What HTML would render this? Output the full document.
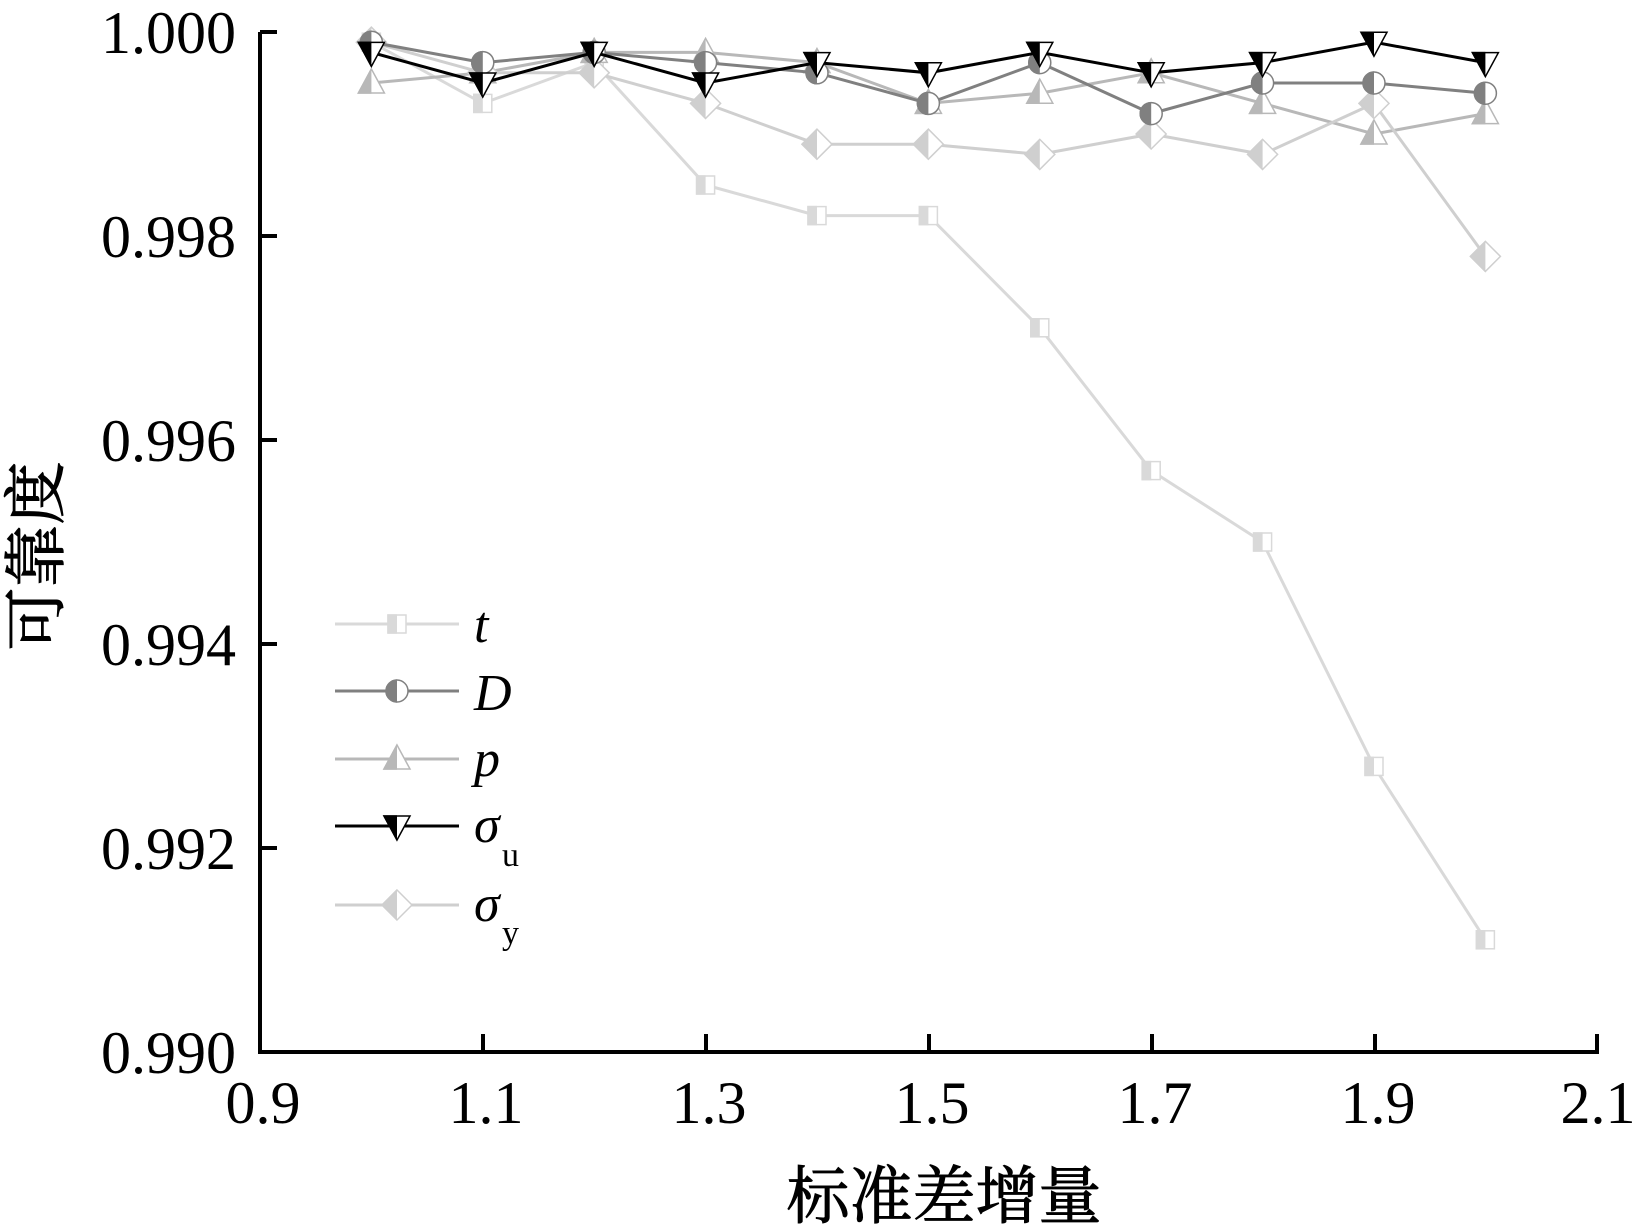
<!DOCTYPE html>
<html><head><meta charset="utf-8"><style>
html,body{margin:0;padding:0;background:#fff;}
svg{display:block;}
text{font-family:"Liberation Serif","Noto Serif CJK SC",serif;}
</style></head><body>
<svg id="s" width="1636" height="1224" viewBox="0 0 1636 1224" xmlns="http://www.w3.org/2000/svg">
<g id="plot"></g>
<g stroke="#000" stroke-width="4" fill="none">
<polyline points="260,32 260,1052 1597,1052 1597,1034"/>
<line x1="260" y1="32" x2="277" y2="32"/>
<line x1="260" y1="236" x2="277" y2="236"/>
<line x1="260" y1="440" x2="277" y2="440"/>
<line x1="260" y1="644" x2="277" y2="644"/>
<line x1="260" y1="848" x2="277" y2="848"/>
<line x1="483" y1="1052" x2="483" y2="1034"/>
<line x1="706" y1="1052" x2="706" y2="1034"/>
<line x1="929" y1="1052" x2="929" y2="1034"/>
<line x1="1152" y1="1052" x2="1152" y2="1034"/>
<line x1="1375" y1="1052" x2="1375" y2="1034"/>
</g>
<g font-size="60" text-anchor="end" fill="#000">
<text x="236" y="53">1.000</text>
<text x="236" y="257">0.998</text>
<text x="236" y="461">0.996</text>
<text x="236" y="665">0.994</text>
<text x="236" y="869">0.992</text>
<text x="236" y="1073">0.990</text>
</g>
<g font-size="60" text-anchor="middle" fill="#000">
<text x="263" y="1123">0.9</text>
<text x="486" y="1123">1.1</text>
<text x="709" y="1123">1.3</text>
<text x="932" y="1123">1.5</text>
<text x="1155" y="1123">1.7</text>
<text x="1378" y="1123">1.9</text>
<text x="1598" y="1123">2.1</text>
</g>
<text x="944" y="1218" font-size="63" text-anchor="middle" fill="#000" stroke="#000" stroke-width="1">标准差增量</text>
<text transform="translate(58,556) rotate(-90)" font-size="63" text-anchor="middle" fill="#000" stroke="#000" stroke-width="1">可靠度</text>
<g id="leg"></g>
<g font-size="52" font-style="italic" fill="#000">
<text x="474" y="642">t</text>
<text x="474" y="710">D</text>
<text x="474" y="776">p</text>
<text x="474" y="842">σ</text>
<text x="474" y="921">σ</text>
</g>
<g font-size="34" fill="#000">
<text x="502" y="866">u</text>
<text x="502" y="944">y</text>
</g>
</svg>
<script>
var X=function(v){return 260+(v-0.9)/0.2*222.8;};
var Y=function(v){return 1052-(v-0.990)*102000;};
var xs=[1.0,1.1,1.2,1.3,1.4,1.5,1.6,1.7,1.8,1.9,2.0];
var S=[
{c:"#d9d9d9",m:"sq",d:[0.9999,0.9993,0.9997,0.9985,0.9982,0.9982,0.9971,0.9957,0.9950,0.9928,0.9911],ly:624},
{c:"#b8b8b8",m:"up",d:[0.9995,0.9996,0.9998,0.9998,0.9997,0.9993,0.9994,0.9996,0.9993,0.9990,0.9992],ly:759},
{c:"#cfcfcf",m:"di",d:[0.9999,0.9996,0.9996,0.9993,0.9989,0.9989,0.9988,0.9990,0.9988,0.9993,0.9978],ly:905},
{c:"#808080",m:"ci",d:[0.9999,0.9997,0.9998,0.9997,0.9996,0.9993,0.9997,0.9992,0.9995,0.9995,0.9994],ly:691},
{c:"#000000",m:"dn",d:[0.9998,0.9995,0.9998,0.9995,0.9997,0.9996,0.9998,0.9996,0.9997,0.9999,0.9997],ly:826}
];
var n=0;
function mk(m,x,y,c){
 var o="",id="cl"+(n++);
 var half='<clipPath id="'+id+'"><rect x="'+(x-20)+'" y="'+(y-20)+'" width="20" height="40"/></clipPath>';
 var shape;
 if(m=="sq")shape='<rect x="'+(x-9)+'" y="'+(y-9)+'" width="18" height="18"/>';
 if(m=="ci")shape='<circle cx="'+x+'" cy="'+y+'" r="11"/>';
 if(m=="up")shape='<polygon points="'+x+','+(y-14)+' '+(x+13)+','+(y+10)+' '+(x-13)+','+(y+10)+'"/>';
 if(m=="dn")shape='<polygon points="'+(x-13)+','+(y-10)+' '+(x+13)+','+(y-10)+' '+x+','+(y+14)+'"/>';
 if(m=="di")shape='<polygon points="'+x+','+(y-15)+' '+(x+15)+','+y+' '+x+','+(y+15)+' '+(x-15)+','+y+'"/>';
 o+='<defs>'+half+'</defs>';
 o+='<g fill="#fff" stroke="'+c+'" stroke-width="1.5">'+shape+'</g>';
 o+='<g fill="'+c+'" stroke="'+c+'" stroke-width="1.5" clip-path="url(#'+id+')">'+shape+'</g>';
 return o;
}
var h="",l="";
S.forEach(function(s){
 var pts=xs.map(function(x,i){return X(x)+","+Y(s.d[i]);}).join(" ");
 h+='<polyline points="'+pts+'" fill="none" stroke="'+s.c+'" stroke-width="3"/>';
 xs.forEach(function(x,i){h+=mk(s.m,X(x),Y(s.d[i]),s.c);});
 l+='<line x1="335" y1="'+s.ly+'" x2="459" y2="'+s.ly+'" stroke="'+s.c+'" stroke-width="3"/>'+mk(s.m,397,s.ly,s.c);
});
document.getElementById("plot").innerHTML=h;
document.getElementById("leg").innerHTML=l;
</script>
</body></html>
